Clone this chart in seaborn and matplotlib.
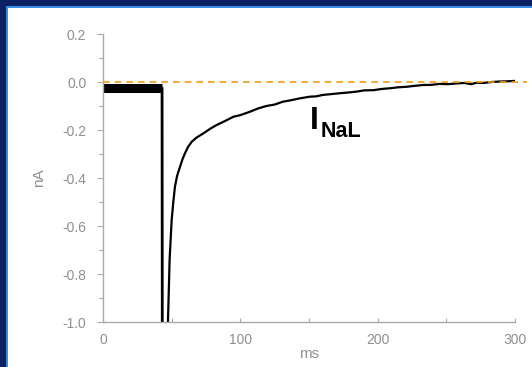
import numpy as np
import pandas as pd
import seaborn as sns
import matplotlib
matplotlib.use("Agg")
import matplotlib.pyplot as plt
from matplotlib.patches import Rectangle

# ---- data ----
hold_t = [0, 43]
hold_i = [-0.025, -0.025]

step_t = [43, 43.2, 43.4]
step_i = [-0.025, -1.2, -1.2]

decay_t = [46.8, 47.3, 48.5, 50.0, 51.2, 52.4, 54.0, 56.1, 58.0, 59.7, 62.0, 64.6,
           68.0, 73.1, 78.0, 82.8, 88.0, 94.9, 100.0, 107.0, 113.0, 119.0, 125.0,
           131.0, 136.0, 143.5, 150.8, 155.0, 160.0, 167.0, 174.0, 180.0, 184.8,
           190.0, 197.0, 203.0, 209.0, 215.0, 221.0, 227.0, 233.0, 239.0, 245.0,
           251.0, 257.6, 263.0, 268.0, 272.0, 277.0, 283.0, 289.0, 295.0, 301.0]
decay_i = [-1.2, -1.0, -0.74, -0.575, -0.5, -0.436, -0.39, -0.353, -0.32, -0.297,
           -0.27, -0.249, -0.232, -0.214, -0.195, -0.179, -0.165, -0.145, -0.138,
           -0.124, -0.11, -0.100, -0.094, -0.082, -0.077, -0.068, -0.061, -0.060,
           -0.054, -0.050, -0.046, -0.043, -0.040, -0.035, -0.034, -0.029, -0.026,
           -0.022, -0.020, -0.016, -0.0125, -0.012, -0.008, -0.009, -0.006, -0.004,
           -0.009, -0.003, -0.004, 0.000, 0.002, 0.003, 0.005]

y_ticks = [0.2, 0.0, -0.2, -0.4, -0.6, -0.8, -1.0]
y_labels = ["0.2", "0.0", "-0.2", "-0.4", "-0.6", "-0.8", "-1.0"]
x_ticks = [0, 100, 200, 300]
x_labels = ["0", "100", "200", "300"]

df_hold = pd.DataFrame({"t": hold_t, "i": hold_i})
df_step = pd.DataFrame({"t": step_t, "i": step_i})
df_decay = pd.DataFrame({"t": decay_t, "i": decay_i})

# ---- figure ----
sns.set_style("white")
plt.rcParams["font.family"] = ["Liberation Sans", "DejaVu Sans"]

W, H = 532, 367
fig = plt.figure(figsize=(W / 100, H / 100), dpi=100)
fig.patch.set_facecolor("white")

# border (dark blue + light blue inner line) on top and left
dark = "#0b2262"
light = "#3b8de3"
fig.patches.append(Rectangle((0, 1 - 6 / H), 1, 6 / H, transform=fig.transFigure,
                             facecolor=dark, edgecolor="none", zorder=0))
fig.patches.append(Rectangle((0, 0), 6 / W, 1, transform=fig.transFigure,
                             facecolor=dark, edgecolor="none", zorder=0))
fig.patches.append(Rectangle((6 / W, 1 - 8 / H), 1 - 6 / W, 2 / H, transform=fig.transFigure,
                             facecolor=light, edgecolor="none", zorder=0))
fig.patches.append(Rectangle((6 / W, 0), 2 / W, 1 - 6 / H, transform=fig.transFigure,
                             facecolor=light, edgecolor="none", zorder=0))

left, right, top, bottom = 103, 515, 34, 322
ax = fig.add_axes([left / W, 1 - bottom / H, (right - left) / W, (bottom - top) / H])
ax.set_facecolor("none")

sns.lineplot(data=df_hold, x="t", y="i", ax=ax, color="black", linewidth=6.5,
             solid_capstyle="butt", estimator=None, sort=False)
sns.lineplot(data=df_step, x="t", y="i", ax=ax, color="black", linewidth=2.0,
             estimator=None, sort=False)
sns.lineplot(data=df_decay, x="t", y="i", ax=ax, color="black", linewidth=1.6,
             estimator=None, sort=False)

ax.axhline(0.0, xmin=0, xmax=1.03, color="#f39a12", linestyle=(0, (4, 3)),
           linewidth=1.2, clip_on=False, zorder=5)

ax.set_xlim(0, 300)
ax.set_ylim(-1.0, 0.2)

gray = "#8f8f8f"
for s in ["top", "right"]:
    ax.spines[s].set_visible(False)
for s in ["left", "bottom"]:
    ax.spines[s].set_color("#aaaaaa")
    ax.spines[s].set_linewidth(1.0)

ax.set_yticks(y_ticks)
ax.set_yticklabels(y_labels)
ax.set_xticks(x_ticks)
ax.set_xticklabels(x_labels)
ax.set_yticks([0.1, -0.1, -0.3, -0.5, -0.7, -0.9], minor=True)
ax.set_xticks([50, 150, 250], minor=True)

ax.tick_params(axis="y", which="major", direction="out", length=4, width=0.8,
               color="#aaaaaa", labelcolor=gray, labelsize=10, pad=8, left=True)
ax.tick_params(axis="y", which="minor", direction="out", length=3, width=0.8,
               color="#aaaaaa", left=True)
ax.tick_params(axis="x", which="major", direction="in", length=3, width=0.8,
               color="#aaaaaa", labelcolor=gray, labelsize=10, pad=8, bottom=True)
ax.tick_params(axis="x", which="minor", direction="in", length=3, width=0.8,
               color="#aaaaaa", bottom=True)

ax.set_xlabel("ms", color=gray, fontsize=11, labelpad=0)
ax.set_ylabel("nA", color=gray, fontsize=11, labelpad=12)

ax.text(150.8, -0.196, "I", fontsize=23, fontweight="bold", color="black",
        va="baseline", ha="left")
ax.text(158.8, -0.229, "NaL", fontsize=15.5, fontweight="bold", color="black",
        va="baseline", ha="left")

fig.savefig("out.png", dpi=100)
